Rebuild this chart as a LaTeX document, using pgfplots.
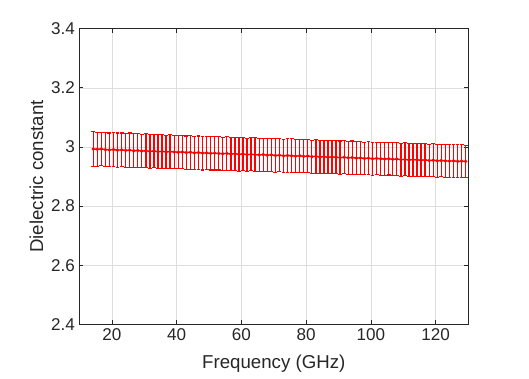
\documentclass[border=0pt]{standalone}
\usepackage{pgfplots}
\pgfplotsset{compat=1.18}
\usepackage{pgfplotstable}
\usepackage{fontspec}
\setmainfont{Liberation Sans}
\definecolor{axgray}{gray}{0.15}
\definecolor{gridgray}{gray}{0.87}
\definecolor{mred}{rgb}{1,0,0}
\pgfplotstableread{
x y e
14.25 2.993 0.058
15.5 2.992 0.058
16.75 2.993 0.057
18 2.991 0.058
19.25 2.990 0.057
20.5 2.991 0.057
21.75 2.989 0.058
23 2.990 0.057
24.25 2.988 0.057
25.5 2.989 0.058
26.75 2.987 0.057
28 2.988 0.057
29.25 2.986 0.056
30.5 2.987 0.057
31.75 2.985 0.057
33 2.986 0.056
34.25 2.984 0.057
35.5 2.985 0.057
36.75 2.983 0.056
38 2.984 0.057
39.25 2.983 0.057
40.5 2.982 0.056
41.75 2.983 0.057
43 2.981 0.056
44.25 2.982 0.057
45.5 2.980 0.056
46.75 2.981 0.056
48 2.979 0.057
49.25 2.980 0.056
50.5 2.978 0.056
51.75 2.979 0.057
53 2.978 0.056
54.25 2.977 0.056
55.5 2.978 0.057
56.75 2.976 0.056
58 2.977 0.056
59.25 2.975 0.057
60.5 2.976 0.056
61.75 2.974 0.056
63 2.975 0.056
64.25 2.974 0.057
65.5 2.973 0.056
66.75 2.974 0.056
68 2.972 0.056
69.25 2.973 0.057
70.5 2.971 0.056
71.75 2.972 0.056
73 2.970 0.056
74.25 2.971 0.056
75.5 2.970 0.057
76.75 2.969 0.056
78 2.970 0.056
79.25 2.968 0.056
80.5 2.969 0.056
81.75 2.967 0.056
83 2.968 0.057
84.25 2.966 0.056
85.5 2.967 0.056
86.75 2.965 0.056
88 2.966 0.055
89.25 2.965 0.056
90.5 2.964 0.056
91.75 2.965 0.056
93 2.963 0.055
94.25 2.964 0.056
95.5 2.962 0.056
96.75 2.963 0.056
98 2.961 0.055
99.25 2.962 0.056
100.5 2.960 0.056
101.75 2.961 0.055
103 2.960 0.056
104.25 2.959 0.056
105.5 2.960 0.055
106.75 2.958 0.056
108 2.959 0.055
109.25 2.957 0.056
110.5 2.958 0.056
111.75 2.956 0.055
113 2.957 0.056
114.25 2.956 0.055
115.5 2.955 0.056
116.75 2.956 0.055
118 2.954 0.055
119.25 2.955 0.056
120.5 2.953 0.055
121.75 2.954 0.055
123 2.953 0.056
124.25 2.952 0.055
125.5 2.953 0.055
126.75 2.951 0.056
128 2.952 0.055
129.25 2.951 0.055
}\datatable
\begin{document}
\begin{tikzpicture}
\useasboundingbox (-59.6pt,-40.3pt) rectangle (337.1pt,243.2pt);
\begin{axis}[
  at={(0,0)}, anchor=south west,
  scale only axis,
  width=291.4pt, height=221.7pt,
  xmin=10, xmax=130, ymin=2.4, ymax=3.4,
  xtick={20,40,...,120},
  ytick={2.4,2.6,...,3.41},
  yticklabel style={/pgf/number format/fixed, /pgf/number format/precision=1},
  /pgf/number format/assume math mode=true,
  grid=major,
  major grid style={gridgray, line width=0.4pt},
  axis line style={axgray, line width=0.5pt},
  tick style={axgray, line width=0.5pt},
  major tick length=3pt,
  tick align=inside,
  ticklabel style={font=\fontsize{12.8}{14}\selectfont, text=axgray},
  xlabel={Frequency (GHz)},
  ylabel={Dielectric constant},
  label style={font=\fontsize{14}{16}\selectfont, text=axgray},
  xlabel style={yshift=-3.5pt},
  ylabel style={yshift=-1pt},
  clip=true,
]
% vertical error bars
\addplot[mred, line width=1pt, -, quiver={u=0, v=2*\thisrow{e}}]
  table[x=x, y expr=\thisrow{y}-\thisrow{e}] {\datatable};
% top caps
\addplot[mred, line width=0.8pt, -, quiver={u=1.2, v=0}]
  table[x expr=\thisrow{x}-0.6, y expr=\thisrow{y}+\thisrow{e}] {\datatable};
% bottom caps
\addplot[mred, line width=0.8pt, -, quiver={u=1.2, v=0}]
  table[x expr=\thisrow{x}-0.6, y expr=\thisrow{y}-\thisrow{e}] {\datatable};
% mean line
\addplot[mred, line width=1pt, mark=*, mark size=0.7pt,
  mark options={fill=mred, draw=mred}]
  table[x=x, y=y] {\datatable};
\end{axis}
\end{tikzpicture}
\end{document}
